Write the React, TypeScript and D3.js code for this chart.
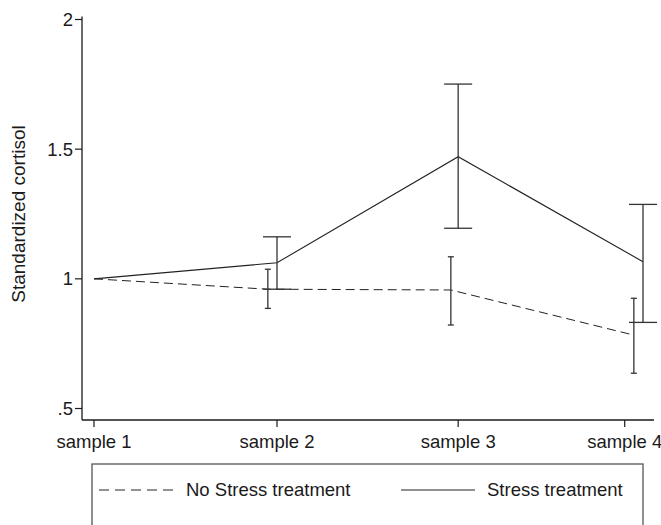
import React from 'react';
import * as d3 from 'd3';

// x positions in "sample" units (ticks and points are not perfectly aligned in the original)
const tickLabels = ['sample 1', 'sample 2', 'sample 3', 'sample 4'];
const tickPos = [1, 2, 2.99, 3.9];
const yTicks = [0.5, 1, 1.5, 2];

const stressX = [1, 2, 2.99, 4.0];
const stressMean = [1.0, 1.062, 1.471, 1.066];
const stressHi = [null, 1.162, 1.751, 1.287];
const stressLo = [null, 0.96, 1.195, 0.832];

const noStressX = [1, 1.95, 2.95, 3.95];
const noStressMean = [1.0, 0.96, 0.957, 0.783];
const noStressHi = [null, 1.037, 1.085, 0.925];
const noStressLo = [null, 0.886, 0.822, 0.636];

const W = 661;
const H = 525;
const ink = '#1a1a1a';
const font = 'Arial, "Liberation Sans", sans-serif';
const fs = 18.5;

export default function App() {
  const x = d3.scaleLinear().domain([1, 2]).range([94, 277]);
  const y = d3.scaleLinear().domain([0.5, 2]).range([408.5, 19.5]);
  const axisLeft = 82;
  const axisBottom = 420;
  const axisRight = x(4.06);

  const line = d3
    .line<[number, number]>()
    .x((d) => x(d[0]))
    .y((d) => y(d[1]));

  const stressPts = stressX.map((v, i) => [v, stressMean[i]] as [number, number]);
  const noStressPts = noStressX.map((v, i) => [v, noStressMean[i]] as [number, number]);

  const errBars = (xs: number[], hi: (number | null)[], lo: (number | null)[], cap: number, key: string) =>
    xs.map((v, i) => {
      if (hi[i] == null || lo[i] == null) return null;
      const cx = x(v);
      const y1 = y(hi[i] as number);
      const y2 = y(lo[i] as number);
      return (
        <g key={key + i} stroke="#333" strokeWidth={1.3}>
          <line x1={cx} x2={cx} y1={y1} y2={y2} />
          <line x1={cx - cap} x2={cx + cap} y1={y1} y2={y1} />
          <line x1={cx - cap} x2={cx + cap} y1={y2} y2={y2} />
        </g>
      );
    });

  return (
    <svg
      width={W}
      height={H}
      style={{ position: 'absolute', left: 0, top: 0, background: '#fff' }}
      fontFamily={font}
    >
      <rect width={W} height={H} fill="#fff" />

      {/* axes */}
      <line x1={axisLeft} x2={axisLeft} y1={y(2) - 3} y2={axisBottom} stroke={ink} strokeWidth={1.3} />
      <line x1={axisLeft} x2={axisRight} y1={axisBottom} y2={axisBottom} stroke={ink} strokeWidth={1.3} />

      {yTicks.map((t) => (
        <g key={t}>
          <line x1={axisLeft - 7} x2={axisLeft} y1={y(t)} y2={y(t)} stroke={ink} strokeWidth={1.2} />
          <text x={axisLeft - 9} y={y(t)} dy="0.35em" textAnchor="end" fontSize={fs} fill={ink}>
            {t === 0.5 ? '.5' : String(t)}
          </text>
        </g>
      ))}

      {tickPos.map((t, i) => (
        <g key={i}>
          <line x1={x(t)} x2={x(t)} y1={axisBottom} y2={axisBottom + 7} stroke={ink} strokeWidth={1.2} />
          <text x={x(t)} y={axisBottom + 22} dy="0.35em" textAnchor="middle" fontSize={fs} fill={ink}>
            {tickLabels[i]}
          </text>
        </g>
      ))}

      <text
        transform={`translate(25, ${y(1.25)}) rotate(-90)`}
        textAnchor="middle"
        fontSize={19}
        fill={ink}
      >
        Standardized cortisol
      </text>

      {/* series */}
      <path d={line(noStressPts) || ''} fill="none" stroke="#222" strokeWidth={1} strokeDasharray="9,5" />
      <path d={line(stressPts) || ''} fill="none" stroke="#222" strokeWidth={1.1} />

      {errBars(noStressX, noStressHi, noStressLo, 3, 'n')}
      {errBars(stressX, stressHi, stressLo, 14, 's')}

      {/* legend */}
      <rect x={92} y={464} width={551} height={80} fill="none" stroke="#555" strokeWidth={1.3} />
      <line x1={99} x2={174} y1={490} y2={490} stroke="#222" strokeWidth={1} strokeDasharray="10,6" />
      <text x={186} y={490} dy="0.35em" fontSize={fs} fill={ink}>No Stress treatment</text>
      <line x1={401} x2={475} y1={490} y2={490} stroke="#222" strokeWidth={1.1} />
      <text x={487} y={490} dy="0.35em" fontSize={fs} fill={ink}>Stress treatment</text>
    </svg>
  );
}
